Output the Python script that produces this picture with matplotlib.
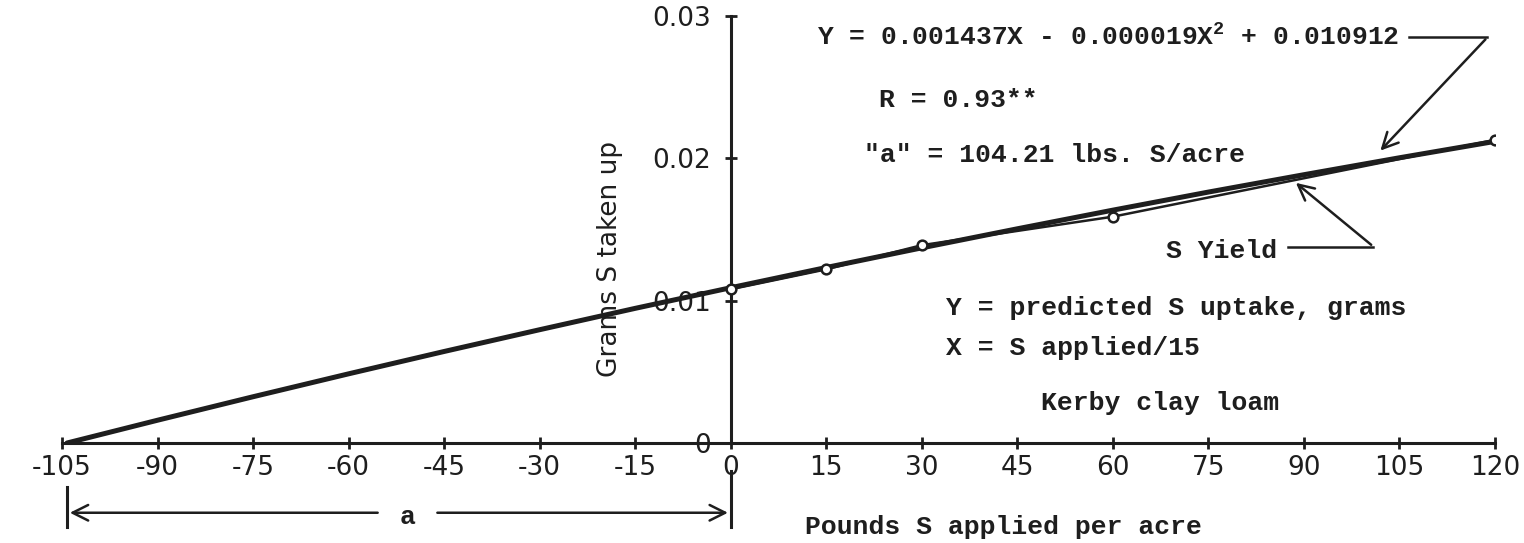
import matplotlib.pyplot as plt

# ============================
# Datos
# ============================
s_aplicado = [0, 15, 30, 60, 120]
s_rendimiento = [0.0108, 0.0122, 0.0139, 0.0159, 0.0213]

# curva ajustada (prolongada hasta "a")
x_ajuste = [-104.21, -90, -75, -60, -45, -30, -15, 0, 15, 30, 45, 60, 75, 90, 105, 120]
y_ajuste = [0.0, 0.0016, 0.00325, 0.00486, 0.00643, 0.00796, 0.00946, 0.01091,
            0.01233, 0.01371, 0.01505, 0.01636, 0.01763, 0.01885, 0.02004, 0.02119]

x_ticks = list(range(-105, 121, 15))
y_ticks = [0, 0.01, 0.02, 0.03]
y_ticklabels = ["0", "0.01", "0.02", "0.03"]
valor_a = 104.21

mono = "Liberation Mono"
letra = "DejaVu Sans"
tinta = "#1e1e1e"
plt.rcParams["mathtext.fontset"] = "custom"
plt.rcParams["mathtext.rm"] = mono + ":bold"

# ============================
# Figura
# ============================
W, H = 1524, 543
fig = plt.figure(figsize=(W / 100, H / 100), dpi=100)
ax = fig.add_axes([62 / W, (H - 443) / H, (1495 - 62) / W, (443 - 16) / H])

ax.plot(x_ajuste, y_ajuste, color=tinta, lw=3.6, solid_capstyle="round", zorder=3)
ax.plot(s_aplicado, s_rendimiento, color=tinta, lw=1.8, marker="o", ms=7,
        mfc="white", mec=tinta, mew=1.8, zorder=4)

ax.set_xlim(-105, 120)
ax.set_ylim(0, 0.03)
ax.spines["top"].set_visible(False)
ax.spines["right"].set_visible(False)
ax.spines["left"].set_position(("data", 0))
for sp in ("left", "bottom"):
    ax.spines[sp].set_linewidth(2.2)
    ax.spines[sp].set_color(tinta)

ax.set_xticks(x_ticks)
ax.set_xticklabels([str(t) for t in x_ticks], family=letra, fontsize=19, color=tinta)
ax.set_yticks(y_ticks)
ax.set_yticklabels(y_ticklabels, family=letra, fontsize=19, color=tinta)
ax.tick_params(axis="both", direction="inout", length=9, width=2, color=tinta)
ax.tick_params(axis="x", pad=4)
ax.tick_params(axis="y", pad=10)

# etiquetas de ejes
ax.text(-19, 0.0129, "Grams S taken up", rotation=90, family=letra, fontsize=19,
        ha="center", va="center", color=tinta)
ax.text(11.7, -0.0059, "Pounds S applied per acre", family=mono, fontsize=19,
        fontweight="bold", ha="left", va="center", color=tinta, clip_on=False)

# textos
txt = dict(family=mono, fontsize=19, fontweight="bold", color=tinta, ha="left", va="center")
ax.text(13.5, 0.0285, r"Y = 0.001437X - 0.000019X$\mathregular{^2}$ + 0.010912", **txt)
ax.text(23.3, 0.0241, "R = 0.93**", **txt)
ax.text(21, 0.0202, '"a" = 104.21 lbs. S/acre', **txt)
ax.text(68.3, 0.0135, "S Yield", **txt)
ax.text(33.8, 0.0095, "Y = predicted S uptake, grams", **txt)
ax.text(33.8, 0.0067, "X = S applied/15", **txt)
ax.text(48.7, 0.0028, "Kerby clay loam", **txt)

# flechas de las leyendas
flecha = dict(arrowstyle="->", color=tinta, lw=1.8, mutation_scale=28)
ax.plot([106.5, 118.8], [0.0285, 0.0285], color=tinta, lw=1.8)
ax.annotate("", xy=(101.7, 0.0204), xytext=(118.8, 0.0285), arrowprops=flecha)
ax.plot([87.5, 100.9], [0.0138, 0.0138], color=tinta, lw=1.8)
ax.annotate("", xy=(88.4, 0.0184), xytext=(100.9, 0.0138), arrowprops=flecha)

# cota "a"
y_cota = -0.0049
ax.plot([-valor_a, -valor_a], [-0.0031, -0.0059], color=tinta, lw=2.2, clip_on=False)
ax.plot([0, 0], [-0.0020, -0.0059], color=tinta, lw=2.2, clip_on=False)
ax.annotate("", xy=(-valor_a, y_cota), xytext=(-55, y_cota), arrowprops=flecha,
            annotation_clip=False)
ax.annotate("", xy=(0, y_cota), xytext=(-46.5, y_cota), arrowprops=flecha,
            annotation_clip=False)
ax.text(-50.8, y_cota - 0.0003, "a", **{**txt, "ha": "center"}, clip_on=False)

fig.savefig("out.png", dpi=100)
